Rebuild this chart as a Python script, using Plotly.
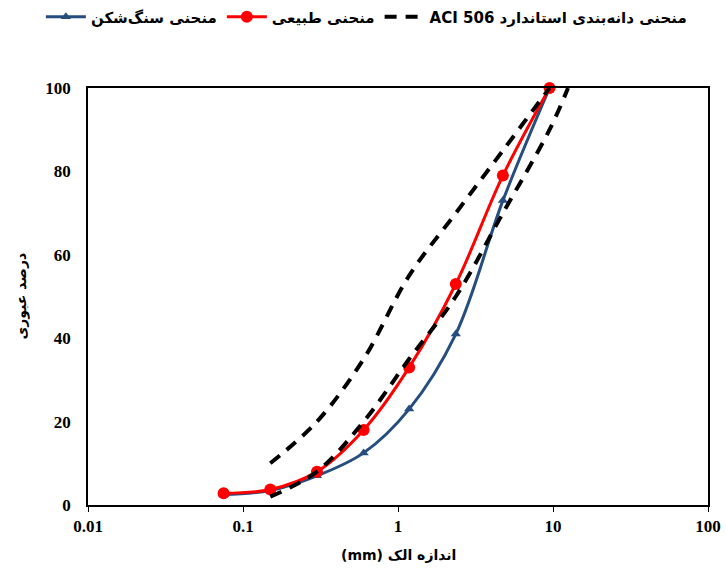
import plotly.graph_objects as go

sieve = [0.075, 0.15, 0.3, 0.6, 1.18, 2.36, 4.75, 9.5]
crushed = [2.5, 3.5, 7, 12.5, 23, 41, 73, 100]
natural = [2.8, 3.7, 8, 18, 33, 53, 79, 100]

aci_upper_x = [0.15, 0.3, 0.6, 1.18, 2.36, 4.75, 9.5]
aci_upper = [10, 20, 35, 55, 70, 85, 100]
aci_lower_x = [0.15, 0.3, 0.6, 1.18, 2.36, 4.75, 9.5, 12.5]
aci_lower = [2, 8, 20, 35, 50, 70, 90, 100]

name_crushed = "منحنی سنگ‌شکن"
name_natural = "منحنی طبیعی"
name_aci = "ACI 506 منحنی دانه‌بندی استاندارد"

x_ticks = [0.01, 0.1, 1, 10, 100]
x_ticklabels = ["0.01", "0.1", "1", "10", "100"]
y_ticks = [0, 20, 40, 60, 80, 100]

fig = go.Figure()
fig.add_trace(go.Scatter(
    x=sieve, y=crushed, name=name_crushed, mode="lines+markers",
    line=dict(color="#254E7F", width=3, shape="spline", smoothing=1),
    marker=dict(symbol="triangle-up", size=9, color="#254E7F"),
    cliponaxis=False))
fig.add_trace(go.Scatter(
    x=sieve, y=natural, name=name_natural, mode="lines+markers",
    line=dict(color="#FF0000", width=3, shape="spline", smoothing=1),
    marker=dict(symbol="circle", size=12, color="#FF0000"),
    cliponaxis=False))
fig.add_trace(go.Scatter(
    x=aci_upper_x, y=aci_upper, name=name_aci, mode="lines",
    line=dict(color="black", width=4, dash="12px,9px", shape="spline", smoothing=1),
    cliponaxis=False))
fig.add_trace(go.Scatter(
    x=aci_lower_x, y=aci_lower, name=name_aci, mode="lines", showlegend=False,
    line=dict(color="black", width=4, dash="12px,9px", shape="spline", smoothing=1),
    cliponaxis=False))

tickfont = dict(family="Liberation Serif, Times New Roman, serif", size=17,
                color="black", weight="bold")

fig.update_layout(
    width=726, height=569,
    margin=dict(l=88, r=18, t=88, b=64, autoexpand=False),
    paper_bgcolor="white", plot_bgcolor="white",
    showlegend=True,
    legend=dict(orientation="h", x=-0.076, xanchor="left", y=1.21, yanchor="top",
                font=dict(family="DejaVu Sans", size=15, color="black", weight="bold"),
                itemwidth=40, tracegroupgap=0, bgcolor="rgba(0,0,0,0)"),
    xaxis=dict(type="log", range=[-2, 2], tickvals=x_ticks, ticktext=x_ticklabels,
               showgrid=False, zeroline=False, showline=True, linecolor="black",
               linewidth=1.5, mirror=True, ticks="outside", ticklen=5, tickcolor="black",
               tickfont=tickfont),
    yaxis=dict(range=[0, 100], tickvals=y_ticks, showgrid=False, zeroline=False,
               showline=True, linecolor="black", linewidth=1.5, mirror=True,
               ticks="", tickfont=tickfont, ticklabelstandoff=12),
    annotations=[
        dict(text="(mm) اندازه الک", x=0.5, y=-0.12, xref="paper", yref="paper",
             xanchor="center", yanchor="middle", showarrow=False,
             font=dict(family="DejaVu Sans", size=14, color="black", weight="bold")),
        dict(text="درصد عبوری", x=-0.108, y=0.5, xref="paper", yref="paper",
             xanchor="center", yanchor="middle", showarrow=False, textangle=-90,
             font=dict(family="DejaVu Sans", size=14, color="black", weight="bold")),
    ],
)

fig.write_html("out.html")
